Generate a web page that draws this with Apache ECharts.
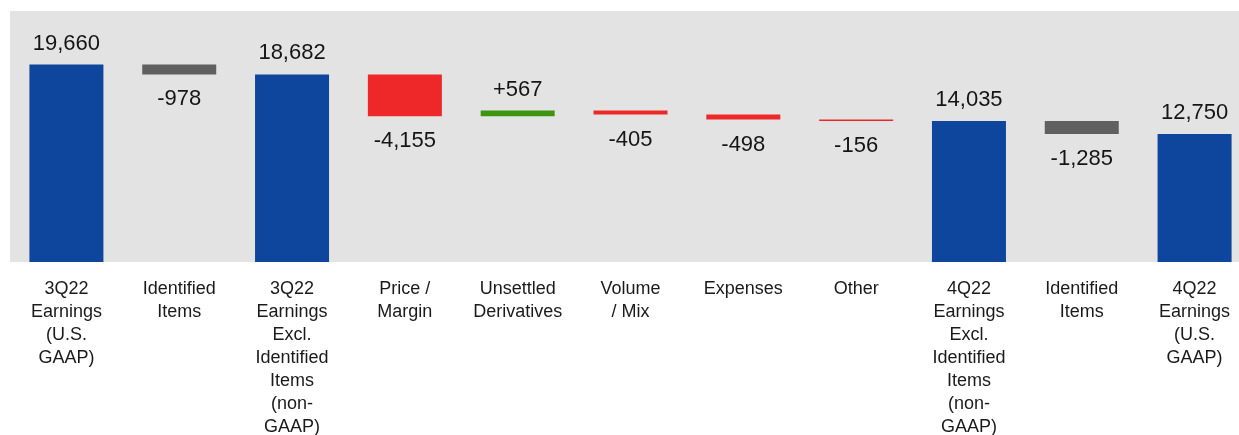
<!DOCTYPE html>
<html>
<head>
<meta charset="utf-8">
<script src="https://cdn.jsdelivr.net/npm/echarts@6/dist/echarts.min.js"></script>
<style>
	html, body { margin: 0; padding: 0; background: #ffffff; }
	#chart { width: 1239px; height: 435px; }
</style>
</head>
<body>
<div id="chart"></div>
<script>
"use strict";

var categories = [
	'3Q22\nEarnings\n(U.S.\nGAAP)',
	'Identified\nItems',
	'3Q22\nEarnings\nExcl.\nIdentified\nItems\n(non-\nGAAP)',
	'Price /\nMargin',
	'Unsettled\nDerivatives',
	'Volume\n/ Mix',
	'Expenses',
	'Other',
	'4Q22\nEarnings\nExcl.\nIdentified\nItems\n(non-\nGAAP)',
	'Identified\nItems',
	'4Q22\nEarnings\n(U.S.\nGAAP)'
];
// totals are drawn from zero, changes float on the running level
var values = [19660, -978, 18682, -4155, 567, -405, -498, -156, 14035, -1285, 12750];
var kinds = ['total', 'identified', 'total', 'change', 'change', 'change', 'change', 'change', 'total', 'identified', 'total'];

var blueColor = '#0d469c';
var grayColor = '#606060';
var downColor = '#ee2828';
var upColor = '#3c960e';

var myChart = echarts.init(document.getElementById('chart'));

function fmt(v, kind) {
	var s = Math.abs(v).toLocaleString('en-US');
	if (kind === 'total') return s;
	return (v < 0 ? '-' : '+') + s;
}

var baseData = [];
var barData = [];
var level = 0;
for (var i = 0; i < values.length; i++) {
	var v = values[i];
	var kind = kinds[i];
	var color, base, height;
	if (kind === 'total') {
		base = 0;
		height = v;
		level = v;
		color = blueColor;
	} else {
		base = Math.min(level, level + v);
		height = Math.abs(v);
		level = level + v;
		color = kind === 'identified' ? grayColor : (v < 0 ? downColor : upColor);
	}
	var up = kind === 'total' || v > 0;
	baseData.push(base);
	barData.push({
		value: height,
		itemStyle: { color: color },
		label: {
			position: up ? 'top' : 'bottom',
			distance: up ? 10 : 14,
			formatter: fmt(v, kind)
		}
	});
}

var option = {
	animation: false,
	grid: {
		left: 10,
		top: 11,
		width: 1241,
		height: 251,
		outerBoundsMode: 'none',
		containLabel: false,
		show: true,
		backgroundColor: '#e3e3e3',
		borderWidth: 0
	},
	xAxis: {
		type: 'category',
		data: categories,
		axisLine: { show: false },
		axisTick: { show: false },
		axisLabel: {
			interval: 0,
			margin: 16,
			color: '#1a1a1a',
			fontSize: 18,
			lineHeight: 23,
			fontFamily: 'Liberation Sans, Arial, sans-serif',
			align: 'center'
		}
	},
	yAxis: {
		type: 'value',
		min: 0,
		max: 25000,
		show: false,
		splitLine: { show: false }
	},
	series: [
		{
			type: 'bar',
			stack: 'wf',
			data: baseData,
			barWidth: 74,
			itemStyle: { color: 'transparent' },
			silent: true
		},
		{
			type: 'bar',
			stack: 'wf',
			data: barData,
			barWidth: 74,
			label: {
				show: true,
				color: '#151515',
				fontSize: 22,
				fontFamily: 'Liberation Sans, Arial, sans-serif'
			}
		}
	]
};

myChart.setOption(option);
</script>
</body>
</html>
